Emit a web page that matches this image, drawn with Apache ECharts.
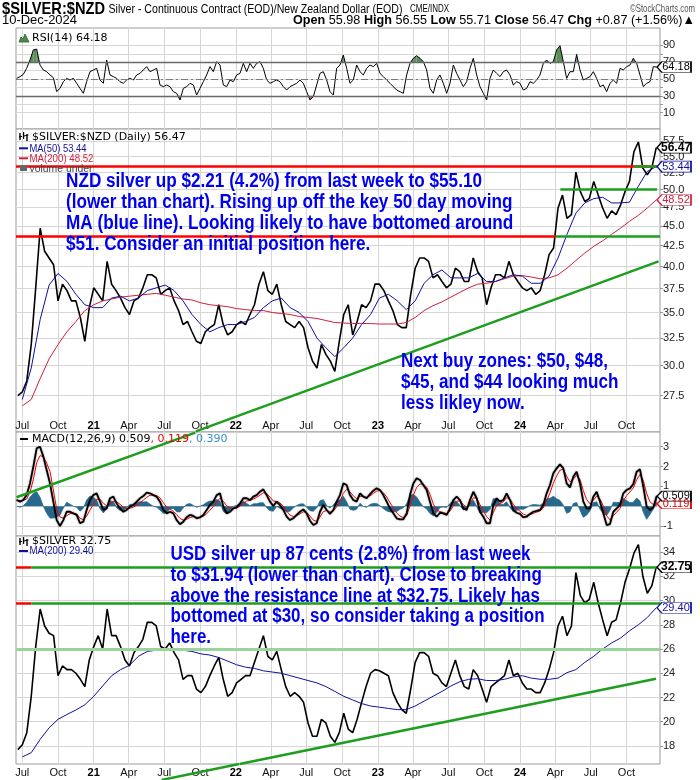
<!DOCTYPE html>
<html>
<head>
<meta charset="utf-8">
<title>$SILVER:$NZD</title>
<script src="https://cdn.jsdelivr.net/npm/echarts@6.0.0/dist/echarts.min.js"></script>
<style>html,body{margin:0;padding:0;background:#fff}#chart{width:700px;height:780px}</style>
</head>
<body>
<div id="chart"></div>
<script>
// ---------- time axis (decimal years) ----------
const XMIN = 2020.4532, XMAX = 2024.9852;
const priceStart = 2020.4663, priceStep = 0.031416;   // sample dates of the price series
const maStart = 2020.4977, maStep = 0.062832;         // sample dates of the moving averages
const indStart = 2020.4579, indStep = 0.023457;       // sample dates of RSI / MACD

// ---------- NZD panel ----------
const nzdClose = [27.5,27.8,28.7,31.9,37.6,44.7,41.8,41.0,40.2,36.2,
 38.0,37.3,36.2,36.2,34.5,32.2,35.5,37.6,36.9,36.2,
 40.6,38.0,37.3,36.5,35.5,34.8,36.2,36.5,37.6,39.05,
 39.05,38.7,36.9,37.3,37.6,36.2,35.2,33.8,34.1,33.1,
 32.2,32.0,33.1,33.5,33.8,35.8,33.8,32.8,33.1,33.8,
 34.1,33.8,34.8,35.8,38.0,39.4,37.3,36.9,38.0,35.8,
 34.1,33.8,33.5,34.1,33.5,31.6,30.4,29.8,31.9,31.0,
 30.4,29.5,32.2,34.8,35.8,32.8,34.1,35.8,35.5,36.2,
 38.0,38.0,37.3,36.2,35.2,33.8,33.5,33.5,36.9,39.8,
 41.0,41.0,40.6,38.7,39.05,38.3,37.6,38.0,39.8,39.4,
 38.3,38.3,41.0,39.4,38.7,35.8,37.6,39.05,39.05,38.7,
 40.6,39.05,38.3,37.6,37.3,37.6,36.9,37.3,39.05,41.4,
 42.2,47.4,49.2,46.0,46.5,52.6,49.7,48.3,48.7,51.2,
 49.2,47.4,46.0,47.0,46.5,47.8,49.7,51.2,55.8,57.4,
 53.2,52.2,53.2,56.47];
const nzdMA50 = [27.2,29.8,34.3,37.9,39.2,38.3,36.9,35.8,35.5,35.5,
 36.5,36.7,36.2,36.5,37.3,37.6,37.9,37.3,36.2,34.8,
 33.8,33.1,33.5,33.8,33.8,34.1,34.5,35.5,36.2,36.5,
 35.5,35.0,34.1,32.5,31.6,30.8,31.6,32.5,33.8,34.8,
 36.5,36.9,36.2,35.3,36.2,38.1,39.05,39.6,38.7,38.7,
 38.7,39.2,38.3,38.3,38.7,39.05,38.9,38.1,38.1,38.9,
 41.0,43.9,46.7,48.1,48.7,48.9,48.1,48.1,48.2,50.5,
 52.7,53.44];
const nzdMA200 = [26.7,27.2,28.9,30.6,31.9,33.1,34.1,35.2,35.8,36.2,
 36.4,36.6,36.7,36.8,36.9,37.0,36.8,36.6,36.4,36.3,
 36.0,35.8,35.7,35.6,35.4,35.3,35.2,35.2,35.0,34.9,
 34.8,34.6,34.5,34.4,34.2,34.0,33.95,33.9,33.9,33.9,
 33.85,33.85,33.85,34.0,34.5,35.2,35.7,36.1,36.6,37.1,
 37.6,38.0,38.1,38.3,38.6,38.9,38.95,38.8,38.6,38.7,
 39.05,39.8,40.7,41.6,42.4,43.1,43.9,44.7,45.6,46.4,
 47.4,48.52];
const nzdTicks = [27.5,30,32.5,35,37.5,40,42.5,45,47.5,50,52.5,55,57.5];
const nzdResistance = 53.57, nzdSupport = 43.73, nzdBuyLine = 50.0;
const nzdSupportSwitch = 2024.252, nzdBuyStart = 2024.284, nzdBuyEnd = 2024.965, nzdResGreenStart = 2024.802;
const nzdTrend = [[2021.719, 24.8], [2024.975, 40.6]];

// ---------- RSI panel ----------
const rsi14 = [50.8,52.8,55.5,62.7,72.6,84.5,85.6,66.6,60.7,58.7,
 54.8,51.6,35.0,38.9,46.8,50.8,48.8,50.8,44.9,38.9,
 33.0,46.8,58.7,60.7,62.7,48.8,44.9,72.6,54.8,52.8,
 50.8,46.8,44.9,48.8,50.8,48.8,54.8,56.7,60.7,64.7,
 58.7,60.7,62.7,42.9,40.9,42.9,40.9,35.0,33.0,25.0,
 38.9,40.9,44.9,42.9,31.0,38.9,46.8,54.8,64.7,58.7,
 70.6,66.6,42.9,40.9,48.8,46.8,54.8,56.7,68.6,58.7,
 68.6,62.7,68.6,70.6,62.7,48.8,44.9,46.8,48.8,46.8,
 40.9,36.9,40.9,42.9,44.9,48.8,44.9,35.0,25.0,29.0,
 42.9,56.7,58.7,48.8,35.0,31.0,62.7,66.6,78.5,62.7,
 44.9,
 48.8,66.6,58.7,54.8,62.7,66.6,64.7,68.6,56.7,52.8,
 48.8,44.9,40.9,36.9,35.0,33.0,54.8,68.6,74.6,77.7,
 74.6,70.6,60.7,38.9,33.0,48.8,54.8,44.9,33.0,44.9,
 66.6,56.7,48.8,40.9,46.8,62.7,74.6,54.8,40.9,33.0,
 25.0,50.8,60.7,56.7,52.8,58.7,60.7,54.8,42.9,46.8,
 44.9,36.9,38.9,46.8,44.9,48.8,54.8,68.6,72.6,68.6,
 70.6,84.5,89.6,70.6,50.8,58.7,58.7,79.3,60.7,48.8,
 50.8,52.8,58.7,50.8,40.9,42.9,35.0,44.9,48.8,44.9,
 62.7,60.7,64.7,66.6,74.6,68.6,54.8,40.9,44.9,46.8,
 64.7,64.18];
const rsiLabels = [10,30,50,70,90];
const rsiGrid = [10,20,30,40,50,60,70,80,90];

// ---------- MACD panel ----------
const macdLine = [0.31,0.23,0.31,0.56,1.15,1.99,2.92,3.0,2.5,1.83,
 1.15,0.23,-0.70,-1.0,-0.70,-0.28,-0.28,-0.36,-0.44,-0.86,
 -0.78,-0.19,0.31,0.56,0.65,0.23,-0.19,-0.11,0.40,0.48,
 0.14,-0.11,-0.28,-0.19,-0.02,0.06,0.23,0.40,0.51,0.68,
 0.65,0.56,0.48,0.23,-0.19,-0.36,-0.28,-0.36,-0.70,-0.91,
 -0.78,-0.56,-0.44,-0.49,-0.61,-0.56,-0.44,-0.19,0.06,0.23,
 0.56,0.65,-0.02,-0.36,-0.28,-0.11,-0.06,0.14,0.40,0.40,
 0.31,0.48,0.56,0.73,0.85,0.56,0.23,0.01,0.23,0.06,
 -0.19,-0.53,-0.70,-0.61,-0.44,-0.28,-0.16,-0.36,-0.73,-0.95,
 -0.86,-0.28,0.06,-0.19,-0.39,-0.19,0.23,0.56,1.15,1.07,
 0.56,
 0.31,0.23,0.65,0.48,0.40,0.61,0.78,0.90,0.82,0.56,
 0.23,-0.11,-0.36,-0.61,-0.66,-0.66,-0.36,0.56,1.15,1.41,
 1.32,1.07,0.82,0.23,-0.36,-0.53,-0.33,-0.36,-0.44,-0.11,
 0.31,0.48,0.31,-0.11,-0.19,0.31,0.73,0.40,-0.28,-0.53,
 -0.86,-0.86,0.06,0.40,0.23,0.31,0.65,0.31,-0.19,-0.33,
 -0.39,-0.56,-0.53,-0.39,-0.28,-0.23,-0.19,0.06,0.65,1.07,
 1.66,1.91,2.11,1.91,1.15,0.95,1.49,1.74,1.15,0.23,
 -0.11,-0.11,0.48,0.73,0.23,-0.36,-0.95,-0.90,-0.28,-0.11,
 0.06,0.65,0.82,0.90,1.12,1.74,1.86,0.98,-0.02,-0.19,
 -0.06,0.509];
const macdSignal = [0.31,0.28,0.29,0.36,0.70,1.34,2.19,2.55,2.50,2.18,
 1.75,0.83,-0.15,-0.55,-0.60,-0.48,-0.38,-0.36,-0.39,-0.61,
 -0.68,-0.50,-0.20,0.10,0.35,0.35,0.15,0.02,0.12,0.25,
 0.22,0.10,-0.05,-0.12,-0.10,-0.05,0.05,0.18,0.30,0.45,
 0.55,0.56,0.53,0.42,0.18,-0.05,-0.15,-0.25,-0.42,-0.62,
 -0.70,-0.66,-0.57,-0.53,-0.56,-0.56,-0.51,-0.38,-0.20,-0.02,
 0.22,0.40,0.25,0.02,-0.10,-0.11,-0.09,0.00,0.15,0.26,
 0.29,0.36,0.44,0.56,0.68,0.64,0.46,0.26,0.24,0.16,
 0.00,-0.25,-0.45,-0.52,-0.48,-0.39,-0.28,-0.31,-0.50,-0.70,
 -0.77,-0.55,-0.27,-0.22,-0.30,-0.25,-0.03,0.24,0.65,0.85,
 0.72,
 0.52,0.38,0.50,0.49,0.45,0.52,0.64,0.76,0.80,0.68,
 0.47,0.18,-0.08,-0.34,-0.50,-0.58,-0.48,0.02,0.55,0.95,
 1.12,1.10,0.96,0.60,0.12,-0.20,-0.27,-0.32,-0.38,-0.25,
 0.02,0.25,0.28,0.08,-0.05,0.13,0.42,0.41,0.07,-0.22,
 -0.53,-0.70,-0.32,0.04,0.13,0.22,0.43,0.37,0.09,-0.12,
 -0.25,-0.40,-0.46,-0.43,-0.36,-0.30,-0.24,-0.09,0.28,0.67,
 1.16,1.53,1.82,1.86,1.51,1.23,1.36,1.55,1.35,0.79,
 0.34,0.12,0.30,0.51,0.37,0.00,-0.48,-0.69,-0.48,-0.30,
 -0.12,0.26,0.54,0.72,0.92,1.33,1.60,1.29,0.64,0.22,
 0.08,0.119];
const macdHist = [0.00,-0.05,0.02,0.20,0.45,0.65,0.73,0.45,0.00,-0.35,
 -0.60,-0.60,-0.55,-0.45,-0.10,0.20,0.10,0.00,-0.05,-0.25,
 -0.10,0.31,0.51,0.46,0.30,-0.12,-0.34,-0.13,0.28,0.23,
 -0.08,-0.21,-0.23,-0.07,0.08,0.11,0.18,0.22,0.21,0.23,
 0.10,0.00,-0.05,-0.19,-0.37,-0.31,-0.13,-0.11,-0.28,-0.29,
 -0.08,0.10,0.13,0.04,-0.05,0.00,0.07,0.19,0.26,0.25,
 0.34,0.25,-0.27,-0.38,-0.18,0.00,0.03,0.14,0.25,0.14,
 0.02,0.12,0.12,0.17,0.17,-0.08,-0.23,-0.25,-0.01,-0.10,
 -0.19,-0.28,-0.25,-0.09,0.04,0.11,0.12,-0.05,-0.23,-0.25,
 -0.09,0.27,0.33,0.03,-0.09,0.06,0.26,0.32,0.50,0.22,
 -0.16,
 -0.21,-0.15,0.15,-0.01,-0.05,0.09,0.14,0.14,0.02,-0.12,
 -0.24,-0.29,-0.28,-0.27,-0.16,-0.08,0.12,0.54,0.60,0.46,
 0.20,-0.03,-0.14,-0.37,-0.48,-0.33,-0.06,-0.04,-0.06,0.14,
 0.29,0.23,0.03,-0.19,-0.14,0.18,0.31,-0.01,-0.35,-0.31,
 -0.33,-0.16,0.38,0.36,0.10,0.09,0.22,-0.06,-0.28,-0.21,
 -0.14,-0.16,-0.07,0.04,0.08,0.07,0.05,0.15,0.37,0.40,
 0.50,0.38,0.29,0.05,-0.36,-0.28,0.13,0.19,-0.20,-0.56,
 -0.45,-0.23,0.18,0.22,-0.14,-0.36,-0.47,-0.21,0.20,0.19,
 0.18,0.39,0.28,0.18,0.20,0.41,0.26,-0.31,-0.66,-0.41,
 -0.14,0.390];
const macdLabels = [-1,1,2,3];
const macdGrid = [-1,0,1,2,3];
const macdTrend = [[2020.457, 0.45], [2021.715, 3.71]];

// ---------- USD panel ----------
const usdClose = [17.7,18.1,19.1,22.1,26.2,29.3,27.9,27.3,27.1,23.8,
 24.6,24.3,24.3,24.0,23.5,22.9,25.1,26.2,27.1,26.0,
 29.3,27.1,27.1,26.2,25.1,24.6,25.7,26.2,26.8,28.2,
 28.2,27.9,26.2,26.0,26.5,25.7,25.1,23.5,23.8,23.8,
 22.7,22.4,22.9,23.8,24.6,25.3,23.5,22.1,22.4,23.2,
 23.5,23.8,23.8,24.9,26.0,27.1,25.4,25.1,25.8,24.3,
 22.9,22.1,22.4,22.1,21.6,19.9,18.8,18.8,20.2,19.9,
 18.8,18.3,19.1,20.7,19.4,19.1,20.2,21.6,22.9,24.0,
 24.3,24.2,24.0,23.8,22.4,21.6,21.0,20.7,22.7,24.9,
 25.7,25.7,25.4,24.0,23.8,23.2,22.9,24.0,25.1,23.8,
 22.9,22.7,24.3,23.8,22.7,21.6,22.9,23.2,23.5,23.8,
 25.1,23.8,24.0,23.2,22.7,22.7,22.4,22.4,23.2,24.3,
 25.7,27.9,28.7,27.1,27.9,32.3,30.4,29.8,30.1,31.5,
 29.8,28.4,27.1,28.2,28.4,29.8,31.5,32.6,33.9,34.6,
 32.0,30.6,31.2,32.75];
const usdMA200 = [17.1,17.45,18.55,19.5,20.2,20.6,20.97,21.4,22.1,22.95,
 23.8,24.3,24.65,25.4,25.8,25.9,25.9,25.9,25.9,25.8,
 25.6,25.5,25.3,25.0,24.7,24.5,24.4,24.2,24.1,24.0,
 23.8,23.6,23.4,23.2,22.9,22.5,22.1,21.8,21.5,21.3,
 21.2,21.1,21.0,21.0,21.3,21.7,22.1,22.5,22.95,23.3,
 23.5,23.55,23.4,23.4,23.5,23.7,23.8,23.6,23.5,23.5,
 23.6,24.05,24.3,24.9,25.4,26.0,26.5,26.9,27.5,28.0,
 28.6,29.4];
const usdTicks = [18,20,22,24,26,28,30,32,34];
const usdResistance = 32.75, usdSupport = 29.75, usdMid = 26.0, usdRedEnd = 2020.56;
const usdTrend = [[2022.027, 16.52], [2024.957, 23.55]];
const usdTrendTail = [[2021.478, 15.2], [2022.0226, 16.51]];

// ---------- helpers ----------
const DJV = '"DejaVu Sans",Verdana,sans-serif';
const ARI = '"Liberation Sans",Arial,sans-serif';
const lg = v => Math.log10(v);
const pts = (start, step, arr, f) => arr.map((v, i) => [start + i * step, f ? f(v) : v]);
function decYear(y, m, d) { const t0 = Date.UTC(y,0,1), t1 = Date.UTC(y+1,0,1); return y + (Date.UTC(y,m,d) - t0) / (t1 - t0); }
const MON = ['Jan','Feb','Mar','Apr','May','Jun','Jul','Aug','Sep','Oct','Nov','Dec'];
const qTicks = [], qLabels = [];
for (let y = 2020; y <= 2024; y++) for (const m of [0,3,6,9]) {
  const v = decYear(y, m, 1);
  if (v >= XMIN && v <= XMAX) { qTicks.push(v); qLabels.push(m === 0 ? String(y).slice(2) : MON[m]); }
}
function xFmt(v) {
  const i = qTicks.findIndex(t => Math.abs(t - v) < 1e-6);
  const s = i < 0 ? '' : qLabels[i];
  return /^\d+$/.test(s) ? '{y|' + s + '}' : s;
}
const GRIDC = '#d6d6d6';
function xAx(gi, labels, inside) {
  return {type:'value', gridIndex:gi, min:XMIN, max:XMAX,
    axisLine:{show:false}, axisTick:{show:false, customValues:qTicks},
    splitLine:{show:gi < 4, lineStyle:{color:GRIDC, width:1}},
    axisLabel: labels ? {show:true, inside:inside, customValues:qTicks, formatter:xFmt, fontSize:11, color:'#111',
      margin: inside ? 1 : 3, fontFamily:ARI, rich:{y:{fontWeight:'bold', fontSize:11, fontFamily:ARI, color:'#000'}}} : {show:false}};
}
function yAx(gi, min, max, ticks, labels, fmt) {
  return {type:'value', gridIndex:gi, position:'right', min:min, max:max,
    axisLine:{show:false},
    axisTick: ticks ? {show:true, customValues:ticks, length:3, lineStyle:{color:'#999'}} : {show:false},
    splitLine:{show: !!ticks, lineStyle:{color:GRIDC, width:1}},
    axisLabel: labels ? {show:true, customValues:labels, formatter:fmt, fontSize:11, color:'#222', margin:3, fontFamily:ARI} : {show:false}};
}
const XT = XMAX - 1e-4;
const TAG = 'path://M0,5L5,0L34,0L34,10L5,10Z';
function tag(y, text, color, bold, h) {
  return {coord:[XT, y], symbol:TAG, symbolSize:[34, h || 11], symbolKeepAspect:false, symbolOffset:[14, 0],
    itemStyle:{color:'#fff', borderColor:color, borderWidth:1},
    label:{show:true, position:'inside', formatter:text, color: bold ? '#000' : color, fontSize: bold ? 12 : 11,
      fontWeight: bold ? 'bold' : 'normal', fontFamily:ARI, offset:[2, 0]}};
}
function helper(xi, yi, lines) {
  return {type:'line', xAxisIndex:xi, yAxisIndex:yi, data:[], symbol:'none', silent:true, z:6,
    markLine:{silent:true, symbol:['none','none'], label:{show:false}, animation:false, data:lines}};
}
// overbought / oversold fill between the RSI line and a level
function band(xi, yi, arr, level, above, color) {
  const data = [];
  for (let i = 0; i < arr.length - 1; i++) data.push([arr[i][0], arr[i][1], arr[i+1][0], arr[i+1][1]]);
  return {type:'custom', xAxisIndex:xi, yAxisIndex:yi, data:data, silent:true, z:2, encode:{x:[0,2], y:[1,3]},
    renderItem: function (params, api) {
      const x0 = api.value(0), v0 = api.value(1), x1 = api.value(2), v1 = api.value(3);
      const a0 = above ? v0 - level : level - v0, a1 = above ? v1 - level : level - v1;
      if (a0 <= 0 && a1 <= 0) return null;
      let p;
      if (a0 >= 0 && a1 >= 0) p = [[x0, level], [x0, v0], [x1, v1], [x1, level]];
      else {
        const xc = x0 + a0 / (a0 - a1) * (x1 - x0);
        p = a0 > 0 ? [[x0, level], [x0, v0], [xc, level]] : [[xc, level], [x1, v1], [x1, level]];
      }
      return {type:'polygon', shape:{points:p.map(q => api.coord(q))}, style:{fill:color}};
    }};
}
const RED = '#ff0000', GREEN = '#1e9e1e';
const seg = (a, b, color, w) => [{coord:a, lineStyle:{color:color, width:w || 2.5, type:'solid'}}, {coord:b}];

// ---------- series ----------
const S = [];
const rsiPts = pts(indStart, indStep, rsi14);
S.push(band(0, 0, rsiPts, 70, true, '#5a8f5a'));
S.push(band(0, 0, rsiPts, 30, false, '#c85050'));
S.push({type:'line', xAxisIndex:0, yAxisIndex:0, data:rsiPts, symbol:'none', clip:false, z:4, lineStyle:{color:'#000', width:1},
  markLine:{silent:true, symbol:['none','none'], label:{show:false}, animation:false, data:[
    {yAxis:70, lineStyle:{color:'#6a6a6a', width:1.3, type:'solid'}},
    {yAxis:30, lineStyle:{color:'#6a6a6a', width:1.3, type:'solid'}},
    {yAxis:50, lineStyle:{color:'#7a7a7a', width:1, type:[7,3,2,3]}}]},
  markPoint:{silent:true, animation:false, data:[tag(64.18, '64.18', '#000', false)]}});

// NZD price panel
S.push({type:'line', xAxisIndex:1, yAxisIndex:1, data:pts(priceStart, priceStep, nzdClose, lg), symbol:'none', clip:false, z:3,
  lineStyle:{color:'#000', width:1.6}, markPoint:{silent:true, animation:false, data:[tag(lg(56.47), '56.47', '#000', true)]}});
S.push({type:'line', xAxisIndex:1, yAxisIndex:1, data:pts(maStart, maStep, nzdMA200, lg), symbol:'none', clip:false, z:4,
  lineStyle:{color:'#d0203c', width:1}, markPoint:{silent:true, animation:false, data:[tag(lg(48.52), '48.52', '#d0203c', false)]}});
S.push({type:'line', xAxisIndex:1, yAxisIndex:1, data:pts(maStart, maStep, nzdMA50, lg), symbol:'none', clip:false, z:4,
  lineStyle:{color:'#1010a0', width:1}, markPoint:{silent:true, animation:false, data:[tag(lg(53.44), '53.44', '#1010a0', false)]}});
S.push(helper(1, 1, [
  seg([XMIN, lg(nzdResistance)], [XMAX, lg(nzdResistance)], RED),
  seg([XMIN, lg(nzdSupport)], [nzdSupportSwitch, lg(nzdSupport)], RED),
  seg([nzdSupportSwitch, lg(nzdSupport)], [XMAX, lg(nzdSupport)], GREEN),
  seg([nzdBuyStart, lg(nzdBuyLine)], [nzdBuyEnd, lg(nzdBuyLine)], GREEN),
  seg([nzdResGreenStart, lg(nzdResistance)], [XMAX, lg(nzdResistance)], GREEN),
  seg([nzdTrend[0][0], lg(nzdTrend[0][1])], [nzdTrend[1][0], lg(nzdTrend[1][1])], GREEN)
]));

// MACD panel
S.push({type:'line', xAxisIndex:2, yAxisIndex:2, data:pts(indStart, indStep, macdHist), symbol:'none', z:2,
  lineStyle:{color:'#27698d', width:0.8}, areaStyle:{color:'#27698d', opacity:1}});
S.push({type:'line', xAxisIndex:2, yAxisIndex:2, data:pts(indStart, indStep, macdSignal), symbol:'none', clip:false, z:3,
  lineStyle:{color:'#ff0000', width:1}, markPoint:{silent:true, animation:false, data:[tag(0.119, '0.119', '#e00000', false, 10)]}});
S.push({type:'line', xAxisIndex:2, yAxisIndex:2, data:pts(indStart, indStep, macdLine), symbol:'none', clip:false, z:4,
  lineStyle:{color:'#000', width:1.8, shadowColor:'rgba(0,0,0,0.45)', shadowBlur:2},
  markPoint:{silent:true, animation:false, data:[tag(0.509, '0.509', '#000', false, 10)]}});
S.push(helper(2, 2, [seg(macdTrend[0], macdTrend[1], GREEN)]));

// USD panel
S.push({type:'line', xAxisIndex:3, yAxisIndex:3, data:pts(priceStart, priceStep, usdClose), symbol:'none', clip:false, z:3,
  lineStyle:{color:'#000', width:1.6}, markPoint:{silent:true, animation:false, data:[tag(32.75, '32.75', '#000', true)]}});
S.push({type:'line', xAxisIndex:3, yAxisIndex:3, data:pts(maStart, maStep, usdMA200), symbol:'none', clip:false, z:4,
  lineStyle:{color:'#1010a0', width:1}, markPoint:{silent:true, animation:false, data:[tag(29.40, '29.40', '#1010a0', false)]}});
S.push(helper(3, 3, [
  seg([XMIN, usdMid], [XMAX, usdMid], '#9ad49a', 3),
  seg([XMIN, usdResistance], [usdRedEnd, usdResistance], RED),
  seg([usdRedEnd, usdResistance], [XMAX, usdResistance], GREEN),
  seg([XMIN, usdSupport], [usdRedEnd, usdSupport], RED),
  seg([usdRedEnd, usdSupport], [XMAX, usdSupport], GREEN),
  seg(usdTrend[0], usdTrend[1], GREEN)
]));
S.push(helper(4, 4, [seg(usdTrendTail[0], usdTrendTail[1], GREEN)]));

// ---------- texts (narrow type emulated by horizontal scaling to the reference widths) ----------
const mctx = document.createElement('canvas').getContext('2d');
function measure(parts) { let w = 0; for (const p of parts) { mctx.font = p[1]; w += mctx.measureText(p[0]).width; } return w; }
function txt(x, y, text, font, fill, extra) {
  return {type:'text', x:x, y:y, z:100, silent:true, style:Object.assign({text:text, font:font, fill:fill, verticalAlign:'middle', align:'left'}, extra || {})};
}
function fit(el, target, parts) { el.scaleX = target / measure(parts); return el; }
function dash(x1, x2, y, color) { return {type:'line', z:100, silent:true, shape:{x1:x1, y1:y, x2:x2, y2:y}, style:{stroke:color, lineWidth:2}}; }
function barIcon(x, y) {
  return {type:'group', x:x, y:y, z:100, silent:true, children:[
    {type:'line', shape:{x1:1, y1:1, x2:1, y2:8}, style:{stroke:'#000', lineWidth:1.4}},
    {type:'line', shape:{x1:4.5, y1:0, x2:4.5, y2:7}, style:{stroke:'#000', lineWidth:1.4}},
    {type:'line', shape:{x1:8, y1:2, x2:8, y2:9}, style:{stroke:'#000', lineWidth:1.4}},
    {type:'line', shape:{x1:0, y1:5, x2:9.5, y2:3}, style:{stroke:'#000', lineWidth:1}}]};
}
const annMain = ['NZD silver up $2.21 (4.2%) from last week to $55.10',
  '(lower than chart). Rising up off the key 50 day moving',
  'MA (blue line). Looking likely to have bottomed around',
  '$51. Consider an initial position here.'];
const annBuy = ['Next buy zones: $50, $48,', '$45, and $44 looking much', 'less likley now.'];
const annUsd = ['USD silver up 87 cents (2.8%) from last week',
  'to $31.94 (lower than chart). Close to breaking',
  'above the resistance line at $32.75. Likely has',
  'bottomed at $30, so consider taking a position', 'here.'];
const ANNF = 'bold 20px ' + ARI, ANNC = '#0000f0';
function block(x, y, lines, lh, target) {
  const el = {type:'text', x:x, y:y, z:100, silent:true, style:{text:lines.join('\n'), font:ANNF, fill:ANNC, lineHeight:lh, verticalAlign:'top', align:'left'}};
  return fit(el, target, [[lines[0], ANNF]]);
}
const F13 = '13px ' + ARI, F13B = 'bold 13px ' + ARI;
const ohlcParts = [['Open', F13B], [' 55.98 ', F13], ['High', F13B], [' 56.55 ', F13], ['Low', F13B], [' 55.71 ', F13],
  ['Close', F13B], [' 56.47 ', F13], ['Chg', F13B], [' +0.87 (+1.56%)\u25B2', F13]];
const ohlcText = ohlcParts.map(p => p[1] === F13B ? '{b|' + p[0] + '}' : p[0]).join('');
const L1 = 'Silver - Continuous Contract (EOD)/New Zealand Dollar (EOD)';
const F11 = '11.5px ' + ARI;
const graphic = [
  fit(txt(2, 9.5, '$SILVER:$NZD', 'bold 17px ' + ARI, '#000'), 103, [['$SILVER:$NZD', 'bold 17px ' + ARI]]),
  fit(txt(108.5, 9.5, L1, '12.5px ' + ARI, '#000'), 294, [[L1, '12.5px ' + ARI]]),
  fit(txt(410, 9.5, 'CME/INDX', '10px ' + ARI, '#000'), 39, [['CME/INDX', '10px ' + ARI]]),
  fit(txt(695, 9, '\u00A9StockCharts.com', '11px ' + ARI, '#555', {align:'right'}), 65, [['\u00A9StockCharts.com', '11px ' + ARI]]),
  fit(txt(2, 20.5, '10-Dec-2024', F13, '#000'), 75, [['10-Dec-2024', F13]]),
  fit(txt(695, 20.5, ohlcText, F13, '#000', {align:'right', rich:{b:{font:F13B, fill:'#000'}}}), 402, ohlcParts),
  {type:'polygon', z:100, silent:true, shape:{points:[[19,42],[21,37],[23,39],[25,34],[27,38],[29,42]]}, style:{fill:'#4f8a4f', stroke:'#2d5d2d', lineWidth:0.8}},
  txt(32, 38.5, 'RSI(14) 64.18', '11px ' + DJV, '#000'),
  barIcon(19, 132),
  txt(32, 137, '$SILVER:$NZD (Daily) 56.47', '11px ' + DJV, '#000'),
  dash(19, 28, 148.3, '#1010a0'),
  fit(txt(29.5, 148.5, 'MA(50) 53.44', F11, '#1010a0'), 57, [['MA(50) 53.44', F11]]),
  dash(19, 28, 158.3, '#d0203c'),
  fit(txt(29.5, 158.5, 'MA(200) 48.52', F11, '#d0203c'), 64, [['MA(200) 48.52', F11]]),
  {type:'rect', z:100, silent:true, shape:{x:20, y:165, width:7, height:6}, style:{fill:'#666'}},
  fit(txt(29.5, 168.5, 'volume under', F11, '#444'), 63, [['volume under', F11]]),
  dash(20, 28, 439, '#000'),
  txt(32, 439.5, '{k|MACD(12,26,9) 0.509}{r|, 0.119}{t|, 0.390}', '11px ' + DJV, '#000',
      {rich:{k:{font:'11px ' + DJV, fill:'#000'}, r:{font:'11px ' + DJV, fill:'#ee0000'}, t:{font:'11px ' + DJV, fill:'#3390c4'}}}),
  barIcon(19, 537),
  txt(32, 541.5, '$SILVER 32.75', '11px ' + DJV, '#000'),
  dash(19, 28, 551, '#1010a0'),
  fit(txt(29.5, 551.3, 'MA(200) 29.40', F11, '#1010a0'), 64, [['MA(200) 29.40', F11]]),
  block(66, 170.7, annMain, 21.2, 416),
  block(401, 350.9, annBuy, 20.9, 207),
  block(170.5, 543.9, annUsd, 20.85, 360)
];

const gridBase = {left:16, width:644, show:true, borderColor:'#9c9c9c', borderWidth:1, backgroundColor:'#fff', containLabel:false, outerBoundsMode:'none'};
const option = {
  animation:false,
  textStyle:{fontFamily:ARI},
  grid:[
    Object.assign({}, gridBase, {top:28, height:101}),
    Object.assign({}, gridBase, {top:129, height:303}),
    Object.assign({}, gridBase, {top:432, height:104}),
    Object.assign({}, gridBase, {top:536, height:228}),
    {left:16, width:644, top:764, height:16, show:false, containLabel:false, outerBoundsMode:'none'}
  ],
  xAxis:[xAx(0, false), xAx(1, true, true), xAx(2, false), xAx(3, true, false), xAx(4, false)],
  yAxis:[
    yAx(0, -9.4, 110.6, rsiGrid, rsiLabels, v => String(v)),
    yAx(1, lg(24.75), lg(59.6), nzdTicks.map(lg), nzdTicks.map(lg), v => Math.pow(10, v).toFixed(1)),
    yAx(2, -1.503, 3.742, macdGrid, macdLabels, v => String(v)),
    yAx(3, 16.515, 35.32, usdTicks, usdTicks, v => String(v)),
    Object.assign(yAx(4, 15.195, 16.515, null, null), {show:false})
  ],
  series:S,
  graphic:graphic
};
const chart = echarts.init(document.getElementById('chart'), null, {renderer:'canvas', width:700, height:780});
chart.setOption(option);
</script>
</body>
</html>
